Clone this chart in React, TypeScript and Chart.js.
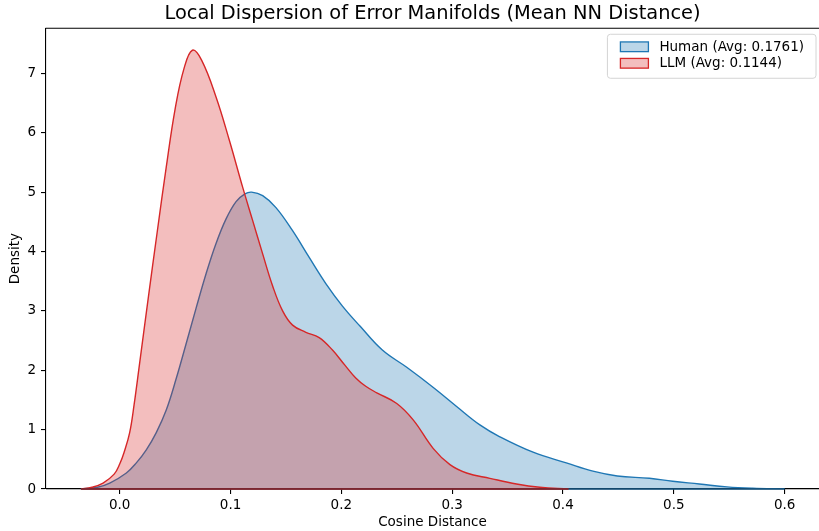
import { useEffect, useRef } from "react";
import { Chart, registerables } from "chart.js";

Chart.register(...registerables);

const titleText = "Local Dispersion of Error Manifolds (Mean NN Distance)";
const xLabel = "Cosine Distance";
const yLabel = "Density";

const xTicks = [0.0, 0.1, 0.2, 0.3, 0.4, 0.5, 0.6];
const yTicks = [0, 1, 2, 3, 4, 5, 6, 7];

const humanLabel = "Human (Avg: 0.1761)";
const humanX = [
  -0.035, -0.02, -0.009, 0.006, 0.015, 0.024, 0.033, 0.042, 0.051, 0.06, 0.069,
  0.078, 0.087, 0.096, 0.105, 0.113, 0.119, 0.129, 0.141, 0.156, 0.171, 0.186,
  0.201, 0.217, 0.237, 0.259, 0.283, 0.304, 0.325, 0.343, 0.373, 0.403, 0.427,
  0.449, 0.478, 0.499, 0.523, 0.548, 0.571, 0.6,
];
const humanY = [
  0, 0.03, 0.1, 0.27, 0.44, 0.66, 0.95, 1.33, 1.86, 2.45, 3.05, 3.63, 4.14,
  4.55, 4.84, 4.97, 5.0, 4.94, 4.74, 4.35, 3.9, 3.46, 3.08, 2.74, 2.34, 2.05,
  1.71, 1.39, 1.08, 0.88, 0.62, 0.44, 0.3, 0.22, 0.18, 0.13, 0.085, 0.035,
  0.012, 0,
];

const llmLabel = "LLM (Avg: 0.1144)";
const llmX = [
  -0.035, -0.025, -0.015, -0.005, 0.0, 0.004, 0.009, 0.013, 0.018, 0.026, 0.034,
  0.042, 0.05, 0.058, 0.0656, 0.074, 0.087, 0.099, 0.111, 0.12, 0.129, 0.138,
  0.147, 0.156, 0.168, 0.18, 0.192, 0.203, 0.213, 0.222, 0.232, 0.25, 0.265,
  0.283, 0.298, 0.313, 0.334, 0.358, 0.379, 0.405,
];
const llmY = [
  0, 0.03, 0.1, 0.25, 0.42, 0.62, 0.95, 1.42, 2.12, 3.25, 4.35, 5.42, 6.4, 7.08,
  7.39, 7.22, 6.6, 5.87, 5.08, 4.52, 3.96, 3.42, 3.0, 2.76, 2.64, 2.55, 2.34,
  2.09, 1.87, 1.73, 1.62, 1.44, 1.16, 0.68, 0.41, 0.27, 0.18, 0.085, 0.03, 0,
];

const FONT = '"DejaVu Sans", "Liberation Sans", sans-serif';
const FS = 13.5;

const extrasPlugin = {
  id: "extras",
  afterDatasetsDraw(chart: any) {
    const { ctx, chartArea, scales } = chart;
    const xs = scales.x;
    const ys = scales.y;
    const y0 = ys.getPixelForValue(0);
    ctx.save();
    chart.data.datasets.forEach((ds: any) => {
      const pts = ds.data;
      ctx.beginPath();
      ctx.strokeStyle = ds.borderColor;
      ctx.lineWidth = 1.6;
      ctx.moveTo(xs.getPixelForValue(pts[0].x), y0);
      ctx.lineTo(xs.getPixelForValue(pts[pts.length - 1].x), y0);
      ctx.stroke();
    });
    ctx.beginPath();
    ctx.strokeStyle = "rgba(0,0,0,0.55)";
    ctx.lineWidth = 1;
    ctx.moveTo(chartArea.left, y0);
    ctx.lineTo(chartArea.right, y0);
    ctx.stroke();
    ctx.beginPath();
    ctx.strokeStyle = "#000";
    ctx.lineWidth = 1.1;
    ctx.moveTo(chartArea.left - 0.5, chartArea.top);
    ctx.lineTo(chartArea.right, chartArea.top);
    ctx.stroke();
    ctx.restore();
  },
  afterDraw(chart: any) {
    const { ctx, chartArea } = chart;
    const dss = chart.data.datasets;
    ctx.save();
    ctx.font = `${FS}px ${FONT}`;
    let tw = 0;
    dss.forEach((ds: any) => {
      tw = Math.max(tw, ctx.measureText(ds.label).width);
    });
    const padL = 13;
    const padR = 12;
    const patchW = 28;
    const patchH = 9.7;
    const gap = 11;
    const rowH = 16.5;
    const boxW = padL + patchW + gap + tw + padR;
    const boxH = 44;
    const right = chartArea.right - 3;
    const left = right - boxW;
    const top = chartArea.top + 6;
    const r = 3;
    ctx.beginPath();
    ctx.moveTo(left + r, top);
    ctx.lineTo(left + boxW - r, top);
    ctx.quadraticCurveTo(left + boxW, top, left + boxW, top + r);
    ctx.lineTo(left + boxW, top + boxH - r);
    ctx.quadraticCurveTo(left + boxW, top + boxH, left + boxW - r, top + boxH);
    ctx.lineTo(left + r, top + boxH);
    ctx.quadraticCurveTo(left, top + boxH, left, top + boxH - r);
    ctx.lineTo(left, top + r);
    ctx.quadraticCurveTo(left, top, left + r, top);
    ctx.closePath();
    ctx.fillStyle = "rgba(255,255,255,0.8)";
    ctx.fill();
    ctx.strokeStyle = "#d4d4d4";
    ctx.lineWidth = 1;
    ctx.stroke();
    dss.forEach((ds: any, i: number) => {
      const cy = top + 12.5 + i * rowH;
      const px = left + padL;
      ctx.fillStyle = ds.backgroundColor;
      ctx.fillRect(px, cy - patchH / 2, patchW, patchH);
      ctx.strokeStyle = ds.borderColor;
      ctx.lineWidth = 1.3;
      ctx.strokeRect(px, cy - patchH / 2, patchW, patchH);
      ctx.fillStyle = "#000";
      ctx.textAlign = "left";
      ctx.textBaseline = "middle";
      ctx.fillText(ds.label, px + patchW + gap, cy + 0.5);
    });
    ctx.restore();
  },
};

export default function App() {
  const ref = useRef<HTMLCanvasElement | null>(null);
  useEffect(() => {
    document.body.style.margin = "0";
    if (!ref.current) return;
    Chart.defaults.font.family = FONT;
    Chart.defaults.color = "#000";
    const chart = new Chart(ref.current, {
      type: "line",
      data: {
        datasets: [
          {
            label: humanLabel,
            data: humanX.map((x, i) => ({ x, y: humanY[i] })),
            borderColor: "#1f77b4",
            backgroundColor: "rgba(31,119,180,0.3)",
            fill: "origin",
            borderWidth: 1.4,
            pointRadius: 0,
            tension: 0.4,
            order: 2,
          },
          {
            label: llmLabel,
            data: llmX.map((x, i) => ({ x, y: llmY[i] })),
            borderColor: "#d62728",
            backgroundColor: "rgba(214,39,40,0.3)",
            fill: "origin",
            borderWidth: 1.4,
            pointRadius: 0,
            tension: 0.4,
            order: 1,
          },
        ],
      },
      options: {
        animation: false,
        responsive: false,
        layout: { padding: 0 },
        plugins: {
          legend: { display: false },
          tooltip: { enabled: false },
          title: {
            display: true,
            text: titleText,
            fullSize: false,
            font: { size: 19.4, weight: "normal", family: FONT },
            color: "#000",
            padding: { top: 2, bottom: 3 },
          },
        },
        scales: {
          x: {
            type: "linear",
            min: -0.0665,
            max: 0.631,
            afterBuildTicks: (ax: any) => {
              ax.ticks = xTicks.map((value) => ({ value }));
            },
            afterFit: (s: any) => {
              s.height = 42;
            },
            ticks: {
              autoSkip: false,
              maxRotation: 0,
              padding: 3,
              color: "#000",
              font: { size: FS, family: FONT },
              callback: (v: any) => Number(v).toFixed(1),
            },
            grid: {
              drawOnChartArea: false,
              drawTicks: true,
              tickLength: 5,
              color: "#000",
              lineWidth: 1.1,
            },
            border: { display: true, color: "#000", width: 1.1 },
            title: {
              display: true,
              text: xLabel,
              color: "#000",
              font: { size: FS, family: FONT },
              padding: { top: 0, bottom: 0 },
            },
          },
          y: {
            type: "linear",
            min: 0,
            max: 7.76,
            afterBuildTicks: (ax: any) => {
              ax.ticks = yTicks.map((value) => ({ value }));
            },
            afterFit: (s: any) => {
              s.width = 46;
            },
            ticks: {
              autoSkip: false,
              padding: 5,
              color: "#000",
              font: { size: FS, family: FONT },
              callback: (v: any) => String(Math.round(Number(v))),
            },
            grid: {
              drawOnChartArea: false,
              drawTicks: true,
              tickLength: 5,
              color: "#000",
              lineWidth: 1.1,
            },
            border: { display: true, color: "#000", width: 1.1 },
            title: {
              display: true,
              text: yLabel,
              color: "#000",
              font: { size: FS, family: FONT },
              padding: { top: 7, bottom: 0 },
            },
          },
        },
      } as any,
      plugins: [extrasPlugin],
    });
    return () => chart.destroy();
  }, []);
  return (
    <canvas
      ref={ref}
      width={819}
      height={531}
      style={{ display: "block", width: "819px", height: "531px" }}
    />
  );
}
